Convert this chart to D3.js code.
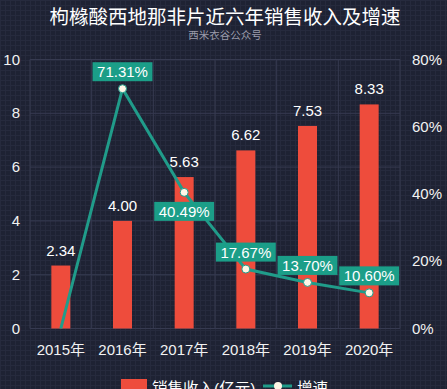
<!DOCTYPE html>
<html>
<head>
<meta charset="utf-8">
<script src="https://cdn.jsdelivr.net/npm/d3@7"></script>
<style>
  html, body { margin: 0; padding: 0; background: #1e2233; }
  svg { display: block; font-family: Arial, "Liberation Sans", "Noto Sans CJK SC", sans-serif; }
</style>
</head>
<body>
<svg id="chart" width="447" height="389"></svg>
<script>
// 枸橼酸西地那非片 sales revenue (bars, left axis) and growth (line, right axis)
var years = ["2015年", "2016年", "2017年", "2018年", "2019年", "2020年"];
var revenue = [2.34, 4.00, 5.63, 6.62, 7.53, 8.33];
var growth = [0, 71.31, 40.49, 17.67, 13.70, 10.60];
var leftTicks = [0, 2, 4, 6, 8, 10];
var rightTicks = [0, 20, 40, 60, 80];

var W = 447, H = 389;
var margin = { left: 30, right: 47, top: 59.5, bottom: 60 };

var svg = d3.select("#chart");

// background with faint mesh texture
var defs = svg.append("defs");
var pat = defs.append("pattern")
    .attr("id", "mesh")
    .attr("width", 5).attr("height", 5)
    .attr("patternUnits", "userSpaceOnUse");
pat.append("rect").attr("width", 5).attr("height", 5).attr("fill", "#1e2233");
pat.append("path").attr("d", "M0,0.5H5M0.5,0V5")
    .attr("stroke", "#262a3d").attr("stroke-width", 1);
svg.append("rect").attr("width", W).attr("height", H).attr("fill", "url(#mesh)");

var x = d3.scaleBand()
    .domain(years)
    .range([margin.left, W - margin.right]);

var yL = d3.scaleLinear().domain([0, 10]).range([H - margin.bottom - 0.5, margin.top]);
var yR = d3.scaleLinear().domain([0, 80]).range([H - margin.bottom - 0.5, margin.top]);

var barW = 19;
var gridColor = "#363a50";
var teal = "#1b9e88";

// grid lines
svg.append("g").selectAll("line.h")
    .data(leftTicks)
    .enter().append("line")
    .attr("x1", margin.left).attr("x2", W - margin.right)
    .attr("y1", function(d) { return yL(d); })
    .attr("y2", function(d) { return yL(d); })
    .attr("stroke", gridColor).attr("stroke-width", 1);

var bounds = years.map(function(d) { return x(d); }).concat([W - margin.right]);
svg.append("g").selectAll("line.v")
    .data(bounds)
    .enter().append("line")
    .attr("x1", function(d) { return d; }).attr("x2", function(d) { return d; })
    .attr("y1", margin.top).attr("y2", yL(0))
    .attr("stroke", gridColor).attr("stroke-width", 1);

// axis tick labels
svg.append("g").selectAll("text")
    .data(leftTicks)
    .enter().append("text")
    .attr("x", 20)
    .attr("y", function(d) { return yL(d) + 5; })
    .attr("text-anchor", "end")
    .attr("fill", "#f2f2f2")
    .style("font-size", "15px")
    .text(function(d) { return d; });

svg.append("g").selectAll("text")
    .data(rightTicks)
    .enter().append("text")
    .attr("x", 412)
    .attr("y", function(d) { return yR(d) + 5; })
    .attr("fill", "#f2f2f2")
    .style("font-size", "15px")
    .text(function(d) { return d + "%"; });

svg.append("g").selectAll("text")
    .data(years)
    .enter().append("text")
    .attr("x", function(d) { return x(d) + x.bandwidth() / 2; })
    .attr("y", 355)
    .attr("text-anchor", "middle")
    .attr("fill", "#f2f2f2")
    .style("font-size", "15px")
    .text(function(d) { return d; });

// bars
svg.append("g").selectAll("rect")
    .data(revenue)
    .enter().append("rect")
    .attr("x", function(d, i) { return x(years[i]) + x.bandwidth() / 2 - barW / 2; })
    .attr("y", function(d) { return yL(d); })
    .attr("width", barW)
    .attr("height", function(d) { return yL(0) - yL(d); })
    .attr("fill", "#ee4c3c");

svg.append("g").selectAll("text")
    .data(revenue)
    .enter().append("text")
    .attr("x", function(d, i) { return x(years[i]) + x.bandwidth() / 2; })
    .attr("y", function(d) { return yL(d) - 10; })
    .attr("text-anchor", "middle")
    .attr("fill", "#ffffff")
    .style("font-size", "15px")
    .text(function(d) { return d.toFixed(2); });

// growth line
var line = d3.line()
    .x(function(d, i) { return x(years[i]) + x.bandwidth() / 2; })
    .y(function(d) { return yR(d); });

svg.append("path")
    .datum(growth)
    .attr("d", line)
    .attr("fill", "none")
    .attr("stroke", "#209c8a")
    .attr("stroke-width", 3);

var pts = growth.map(function(d, i) { return { v: d, i: i }; })
    .filter(function(d) { return d.v > 0; });

svg.append("g").selectAll("circle")
    .data(pts)
    .enter().append("circle")
    .attr("cx", function(d) { return x(years[d.i]) + x.bandwidth() / 2; })
    .attr("cy", function(d) { return yR(d.v); })
    .attr("r", 4)
    .attr("fill", "#fff6e6")
    .attr("stroke", "#209c8a")
    .attr("stroke-width", 1);

// value labels in teal boxes; the 2017 one sits below its point
var labelG = svg.append("g").selectAll("g")
    .data(pts)
    .enter().append("g")
    .attr("transform", function(d) {
        var cx = x(years[d.i]) + x.bandwidth() / 2;
        var cy = yR(d.v);
        var below = d.i === 2;
        return "translate(" + cx + "," + (below ? cy + 19 : cy - 17) + ")";
    });

labelG.each(function(d) {
    var g = d3.select(this);
    var t = g.append("text")
        .attr("text-anchor", "middle")
        .attr("y", 5.5)
        .attr("fill", "#ffffff")
        .style("font-size", "15px")
        .text(d.v.toFixed(2) + "%");
    var w = t.node().getComputedTextLength() + 9;
    g.insert("rect", "text")
        .attr("x", -w / 2).attr("y", -9.5)
        .attr("width", w).attr("height", 19)
        .attr("fill", teal);
});

// title
svg.append("text")
    .attr("x", 225).attr("y", 24)
    .attr("text-anchor", "middle")
    .attr("fill", "#ffffff")
    .style("font-size", "19.5px")
    .text("枸橼酸西地那非片近六年销售收入及增速");

svg.append("text")
    .attr("x", 225).attr("y", 39)
    .attr("text-anchor", "middle")
    .attr("fill", "#9b9cab")
    .style("font-size", "10.5px")
    .text("西米衣谷公众号");

// legend (partly cut off at the bottom)
var lg = svg.append("g");
lg.append("rect")
    .attr("x", 121).attr("y", 379)
    .attr("width", 26).attr("height", 15)
    .attr("fill", "#ee4c3c");
lg.append("text")
    .attr("x", 152).attr("y", 394)
    .attr("fill", "#ffffff")
    .style("font-size", "15.5px")
    .text("销售收入(亿元)");
lg.append("line")
    .attr("x1", 263).attr("x2", 292)
    .attr("y1", 386).attr("y2", 386)
    .attr("stroke", "#209c8a").attr("stroke-width", 3);
lg.append("circle")
    .attr("cx", 278).attr("cy", 386).attr("r", 4)
    .attr("fill", "#fff6e6");
lg.append("text")
    .attr("x", 297).attr("y", 394)
    .attr("fill", "#ffffff")
    .style("font-size", "15.5px")
    .text("增速");
</script>
</body>
</html>
